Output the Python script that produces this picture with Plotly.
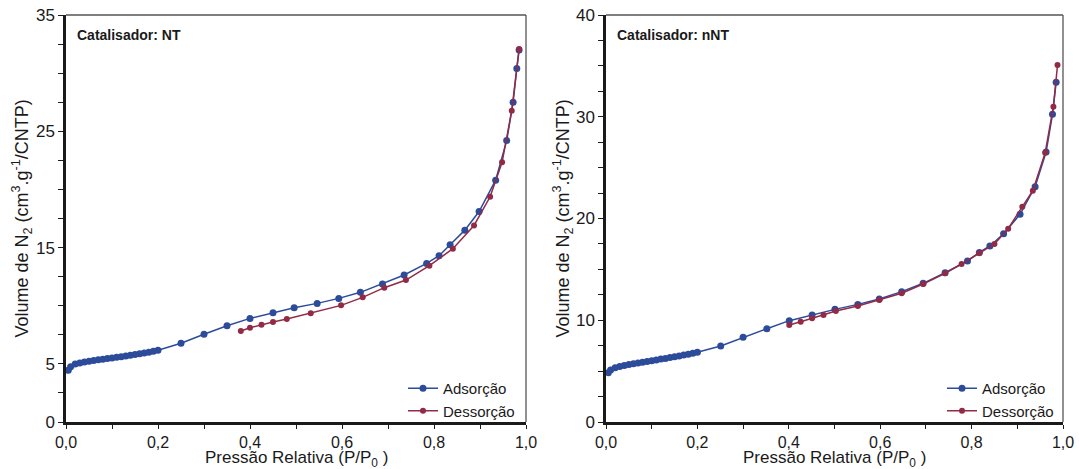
import plotly.graph_objects as go

# ---------------- Data ----------------
# Catalisador: NT
nt_ads_p = [0.005, 0.01, 0.02, 0.03, 0.04, 0.05, 0.06, 0.07, 0.08, 0.09, 0.10,
            0.11, 0.12, 0.13, 0.14, 0.15, 0.16, 0.17, 0.18, 0.19, 0.20,
            0.25, 0.30, 0.35, 0.40, 0.45, 0.496, 0.546, 0.593, 0.64, 0.688,
            0.735, 0.784, 0.811, 0.835, 0.867, 0.898, 0.934, 0.958, 0.972, 0.98, 0.985]
nt_ads_v = [4.45, 4.75, 4.98, 5.08, 5.16, 5.23, 5.29, 5.35, 5.40, 5.46, 5.51,
            5.57, 5.62, 5.68, 5.74, 5.80, 5.86, 5.93, 6.00, 6.08, 6.17,
            6.77, 7.54, 8.28, 8.91, 9.40, 9.83, 10.2, 10.63, 11.15, 11.87,
            12.64, 13.64, 14.3, 15.25, 16.5, 18.1, 20.8, 24.2, 27.5, 30.4, 32.0]
nt_des_p = [0.985, 0.969, 0.948, 0.922, 0.887, 0.841, 0.79, 0.739, 0.692, 0.645,
            0.598, 0.532, 0.48, 0.45, 0.425, 0.40, 0.38]
nt_des_v = [32.07, 26.77, 22.33, 19.37, 16.9, 14.9, 13.44, 12.21, 11.55, 10.72,
            10.03, 9.35, 8.86, 8.60, 8.37, 8.11, 7.82]

# Catalisador: nNT
nnt_ads_p = [0.005, 0.01, 0.02, 0.03, 0.04, 0.05, 0.06, 0.07, 0.08, 0.09, 0.10,
             0.11, 0.12, 0.13, 0.14, 0.15, 0.16, 0.17, 0.18, 0.19, 0.20,
             0.251, 0.30, 0.352, 0.401, 0.451, 0.501, 0.551, 0.598, 0.647, 0.694,
             0.742, 0.791, 0.817, 0.84, 0.87, 0.906, 0.939, 0.963, 0.977, 0.985]
nnt_ads_v = [4.85, 5.1, 5.34, 5.45, 5.55, 5.64, 5.72, 5.80, 5.88, 5.95, 6.03,
             6.10, 6.18, 6.25, 6.33, 6.41, 6.49, 6.58, 6.67, 6.76, 6.85,
             7.47, 8.32, 9.17, 9.96, 10.52, 11.07, 11.56, 12.09, 12.81, 13.63,
             14.68, 15.82, 16.67, 17.3, 18.5, 20.41, 23.13, 26.54, 30.24, 33.38]
nnt_des_p = [0.988, 0.979, 0.961, 0.934, 0.911, 0.88, 0.85, 0.817, 0.778, 0.742,
             0.694, 0.647, 0.598, 0.551, 0.503, 0.476, 0.451, 0.426, 0.401]
nnt_des_v = [35.09, 30.99, 26.47, 22.73, 21.16, 19.0, 17.5, 16.58, 15.53, 14.61,
             13.56, 12.65, 11.99, 11.4, 10.91, 10.52, 10.19, 9.86, 9.53]

series_names = ["Adsorção", "Dessorção"]
panel_titles = ["Catalisador: NT", "Catalisador: nNT"]

x_tickvals = [0.0, 0.1, 0.2, 0.3, 0.4, 0.5, 0.6, 0.7, 0.8, 0.9, 1.0]
x_ticktext = ["0,0", "", "0,2", "", "0,4", "", "0,6", "", "0,8", "", "1,0"]
y1_tickvals = [i * 2.5 for i in range(15)]
y1_labels = {0: "0", 5: "5", 15: "15", 25: "25", 35: "35"}
y2_tickvals = [i * 2.5 for i in range(17)]
y2_labels = {0: "0", 10: "10", 20: "20", 30: "30", 40: "40"}

# ---------------- Styles ----------------
BLUE = "#2c4b9b"
RED = "#922a45"
FONT = "Arial, Liberation Sans, sans-serif"
W, H = 1079, 469

fig = go.Figure()

def add_pair(xa, ya, ads_p, ads_v, des_p, des_v, legend):
    fig.add_trace(go.Scatter(x=ads_p, y=ads_v, mode="lines+markers", name=series_names[0],
                             line=dict(color=BLUE, width=1.5),
                             marker=dict(color=BLUE, size=7),
                             xaxis=xa, yaxis=ya, legend=legend))
    fig.add_trace(go.Scatter(x=des_p, y=des_v, mode="lines+markers", name=series_names[1],
                             line=dict(color=RED, width=1.5),
                             marker=dict(color=RED, size=6),
                             xaxis=xa, yaxis=ya, legend=legend))

add_pair("x", "y", nt_ads_p, nt_ads_v, nt_des_p, nt_des_v, "legend")
add_pair("x2", "y2", nnt_ads_p, nnt_ads_v, nnt_des_p, nnt_des_v, "legend2")

ydom = [1 - 422 / H, 1 - 15 / H]
x1dom = [66 / W, 526 / W]
x2dom = [606 / W, 1063 / W]

axis_common = dict(showgrid=False, zeroline=False, showline=True, linecolor="#1a1a1a",
                   linewidth=2.5, ticks="outside", tickwidth=1.3,
                   tickcolor="#1a1a1a", mirror=False, automargin=False)

ytitle = "Volume de N<sub>2</sub> (cm<sup>3</sup>.g<sup>-1</sup>/CNTP)"
xtitle = "Pressão Relativa (P/P<sub>0</sub> )"

legend_common = dict(xanchor="right", yanchor="bottom", bgcolor="rgba(0,0,0,0)",
                     font=dict(family=FONT, size=15, color="#1a1a1a"),
                     tracegroupgap=0, itemwidth=30)

xtickfont = dict(family=FONT, size=16, color="#1a1a1a")
ytickfont = dict(family=FONT, size=17, color="#1a1a1a")

fig.update_layout(
    width=W, height=H,
    margin=dict(l=0, r=0, t=0, b=0),
    paper_bgcolor="white", plot_bgcolor="white",
    font=dict(family=FONT, color="#1a1a1a"),
    xaxis=dict(domain=x1dom, range=[0, 1], anchor="y", tickvals=x_tickvals, ticktext=x_ticktext,
               ticklen=4, tickfont=xtickfont, **axis_common),
    yaxis=dict(domain=ydom, range=[0, 35], anchor="x", tickvals=y1_tickvals,
               ticktext=[y1_labels.get(int(v), "") if v == int(v) else "" for v in y1_tickvals],
               ticklen=5, tickfont=ytickfont, **axis_common),
    xaxis2=dict(domain=x2dom, range=[0, 1], anchor="y2", tickvals=x_tickvals, ticktext=x_ticktext,
                ticklen=4, tickfont=xtickfont, **axis_common),
    yaxis2=dict(domain=ydom, range=[0, 40], anchor="x2", tickvals=y2_tickvals,
                ticktext=[y2_labels.get(int(v), "") if v == int(v) else "" for v in y2_tickvals],
                ticklen=5, tickfont=ytickfont, **axis_common),
    legend=dict(x=x1dom[1] - 6 / W, y=ydom[0] - 5 / H, **legend_common),
    legend2=dict(x=x2dom[1] - 4 / W, y=ydom[0] - 5 / H, **legend_common),
    showlegend=True,
)

# thin top/right frame lines
for xr, yr in [("x domain", "y domain"), ("x2 domain", "y2 domain")]:
    fig.add_shape(type="line", xref=xr, yref=yr, x0=0, x1=1, y0=1, y1=1,
                  line=dict(color="#555555", width=1.3))
    fig.add_shape(type="line", xref=xr, yref=yr, x0=1, x1=1, y0=0, y1=1,
                  line=dict(color="#555555", width=1.3))

# panel labels
for xr, yr, txt in [("x domain", "y domain", panel_titles[0]), ("x2 domain", "y2 domain", panel_titles[1])]:
    fig.add_annotation(xref=xr, yref=yr, x=0.02, y=0.95, xanchor="left", yanchor="middle",
                       text="<b>" + txt + "</b>", showarrow=False,
                       font=dict(family=FONT, size=14, color="#1a1a1a"))

# axis titles
for dom, ycx in [(x1dom, 22 / W), (x2dom, 563 / W)]:
    fig.add_annotation(xref="paper", yref="paper", x=(dom[0] + dom[1]) / 2, y=0, yshift=-2,
                       xanchor="center", yanchor="bottom", text=xtitle, showarrow=False,
                       borderpad=0, font=dict(family=FONT, size=17, color="#1a1a1a"))
    fig.add_annotation(xref="paper", yref="paper", x=ycx, y=(ydom[0] + ydom[1]) / 2,
                       xanchor="center", yanchor="middle", text=ytitle, showarrow=False,
                       textangle=-90, font=dict(family=FONT, size=18, color="#1a1a1a"))

fig.write_html("out.html")
